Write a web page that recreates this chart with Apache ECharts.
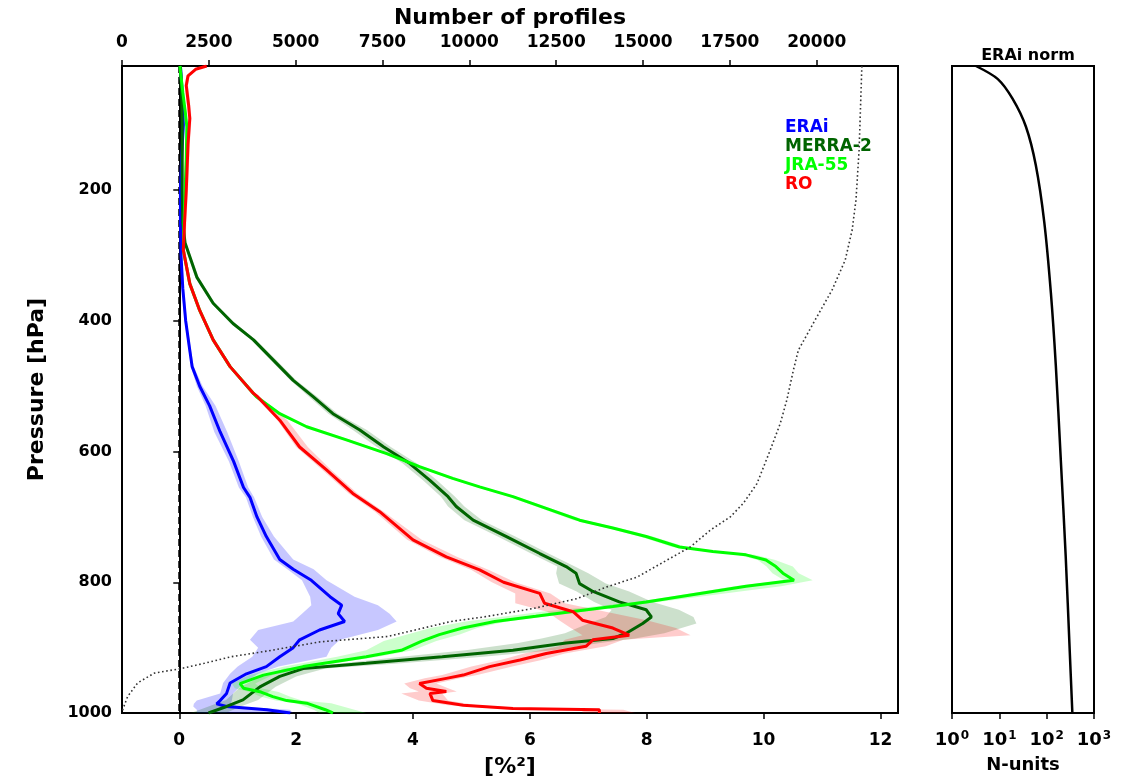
<!DOCTYPE html>
<html>
<head>
<meta charset="utf-8">
<script src="https://cdn.jsdelivr.net/npm/echarts@6/dist/echarts.min.js"></script>
<style>
html,body{margin:0;padding:0;background:#fff;}
#chart{width:1127px;height:780px;}
</style>
</head>
<body>
<div id="chart"></div>
<script>
// ---------------- DATA ----------------
const pressureTicks = [200, 400, 600, 800, 1000];
const varTicks = [0, 2, 4, 6, 8, 10, 12];
const profileTicks = [0, 2500, 5000, 7500, 10000, 12500, 15000, 17500, 20000];
const seriesNames = ['ERAi', 'MERRA-2', 'JRA-55', 'RO'];

// ERAi
const eraiP  = [10,50,100,150,200,250,300,350,400,445,470,500,530,570,615,655,670,700,730,765,780,797,822,835,848,860,873,888,900,914,929,940,954,970,981,986,990,995,1000];
const eraiV  = [0.02,0.05,0.07,0.04,0.02,0.02,0.03,0.06,0.11,0.18,0.22,0.35,0.52,0.70,0.93,1.10,1.21,1.33,1.49,1.72,1.95,2.26,2.58,2.78,2.72,2.83,2.40,2.06,1.95,1.72,1.49,1.15,0.87,0.81,0.70,0.64,0.81,1.50,1.90];
const eraiLo = [0.0,0.03,0.05,0.02,0.0,0.0,0.01,0.04,0.09,0.16,0.20,0.30,0.45,0.60,0.85,1.02,1.14,1.26,1.40,1.62,1.85,2.10,2.24,2.26,2.10,1.95,1.35,1.21,1.35,1.25,1.00,0.87,0.75,0.70,0.30,0.25,0.24,0.30,0.30];
const eraiHi = [0.04,0.07,0.09,0.06,0.04,0.04,0.05,0.08,0.13,0.20,0.25,0.40,0.62,0.82,1.02,1.18,1.28,1.42,1.62,1.95,2.30,2.52,3.00,3.40,3.60,3.72,3.40,2.75,2.60,2.52,1.70,1.35,1.10,0.92,0.90,0.88,1.00,1.89,1.95];

// MERRA-2
const merraP  = [10,50,100,150,200,250,281,333,373,404,429,460,491,516,542,567,593,618,644,669,684,705,730,756,776,786,802,814,830,842,853,863,878,886,893,904,914,924,932,944,960,980,990,1000];
const merraV  = [0.02,0.04,0.05,0.05,0.05,0.06,0.10,0.30,0.58,0.92,1.27,1.61,1.95,2.29,2.63,3.09,3.50,3.94,4.29,4.60,4.74,5.03,5.60,6.17,6.62,6.79,6.85,7.08,7.53,7.99,8.08,7.93,7.65,7.42,6.62,5.71,4.50,3.20,2.12,1.72,1.38,1.09,0.81,0.50];
const merraLo = [0.0,0.02,0.03,0.03,0.03,0.04,0.08,0.27,0.55,0.88,1.23,1.56,1.90,2.22,2.55,2.97,3.38,3.82,4.17,4.48,4.60,4.88,5.45,6.02,6.47,6.45,6.50,6.80,7.10,7.40,7.30,7.00,6.60,6.20,5.80,4.90,3.80,2.80,1.80,1.40,1.05,0.80,0.50,0.20];
const merraHi = [0.04,0.06,0.07,0.07,0.07,0.08,0.12,0.33,0.61,0.96,1.31,1.66,2.00,2.36,2.71,3.21,3.62,4.06,4.41,4.72,4.88,5.18,5.75,6.32,6.77,7.00,7.30,7.70,8.10,8.55,8.80,8.85,8.30,7.80,7.20,6.40,5.20,3.80,2.50,2.00,1.65,1.35,1.05,0.80];

// JRA-55
const jraP  = [10,50,78,103,150,200,250,292,343,384,429,470,511,516,542,562,582,603,623,641,654,669,687,705,717,730,746,753,758,766,776,786,797,806,822,830,837,845,852,860,870,880,890,904,914,929,942,955,962,968,975,981,985,995,1000];
const jraV  = [0.01,0.06,0.10,0.13,0.12,0.10,0.08,0.07,0.18,0.35,0.58,0.87,1.27,1.32,1.72,2.18,2.86,3.55,4.11,4.68,5.14,5.71,6.28,6.85,7.42,7.99,8.56,9.13,9.70,10.04,10.21,10.33,10.52,9.70,8.56,7.99,7.42,6.70,6.10,5.40,4.85,4.45,4.15,3.80,3.20,2.12,1.44,1.04,1.10,1.40,1.60,1.84,2.18,2.50,2.63];
const jraLo = [0.0,0.04,0.08,0.11,0.10,0.08,0.06,0.05,0.16,0.33,0.56,0.84,1.23,1.28,1.68,2.13,2.80,3.49,4.05,4.62,5.08,5.64,6.20,6.75,7.32,7.88,8.44,9.00,9.55,9.90,10.05,10.15,10.35,9.50,8.40,7.80,7.10,6.20,5.60,4.90,4.30,3.90,3.50,3.20,2.70,1.80,1.20,0.90,0.95,1.20,1.40,1.65,2.00,2.30,2.40];
const jraHi = [0.02,0.08,0.12,0.15,0.14,0.12,0.10,0.09,0.20,0.37,0.60,0.90,1.31,1.36,1.76,2.23,2.92,3.61,4.17,4.74,5.20,5.78,6.36,6.95,7.52,8.10,8.68,9.26,9.85,10.20,10.50,10.60,10.84,10.30,8.90,8.20,7.60,6.90,6.30,5.60,5.10,4.80,4.40,4.00,3.40,2.30,1.60,1.30,1.40,1.70,1.90,2.10,2.60,3.00,3.20];

// RO
const roP  = [10,15,25,40,70,90,130,200,250,292,343,384,429,470,511,516,552,593,628,664,692,735,761,781,800,817,832,845,858,870,881,888,898,909,919,929,942,947,955,962,967,970,981,988,993,995,1000];
const roV  = [0.47,0.28,0.15,0.12,0.16,0.18,0.15,0.12,0.09,0.07,0.18,0.35,0.58,0.87,1.27,1.34,1.72,2.06,2.52,2.97,3.43,4.00,4.57,5.14,5.55,6.17,6.25,6.74,6.90,7.42,7.70,7.08,6.96,6.28,5.83,5.31,4.86,4.57,4.11,4.23,4.57,4.29,4.34,4.86,5.71,7.19,7.19];
const roLo = [0.44,0.25,0.12,0.09,0.13,0.15,0.12,0.09,0.06,0.04,0.15,0.32,0.55,0.84,1.23,1.30,1.68,2.00,2.45,2.90,3.35,3.90,4.45,5.00,5.35,5.75,5.75,6.30,6.50,6.70,6.90,6.60,6.50,5.90,5.50,5.00,4.50,4.20,3.85,3.95,4.10,3.80,4.10,4.60,5.40,6.90,6.90];
const roHi = [0.50,0.31,0.18,0.15,0.19,0.21,0.18,0.15,0.12,0.10,0.21,0.38,0.61,0.90,1.31,1.38,1.85,2.20,2.60,3.05,3.50,4.15,4.75,5.30,5.75,6.35,6.60,7.30,8.00,8.50,8.75,7.60,7.30,6.60,6.20,5.70,5.10,4.80,4.40,4.60,4.75,4.50,4.60,5.10,6.00,7.60,7.80];

// Number of profiles (top axis)
const profP = [10,139,215,261,307,353,399,445,475,521,557,598,649,679,700,720,746,766,792,807,825,840,853,860,865,883,891,906,914,924,932,939,954,975,995,1000];
const profN = [21300,21220,21130,21020,20820,20440,19950,19470,19330,19140,18950,18660,18280,17890,17510,16940,16360,15690,14830,13960,13100,11850,10420,9460,9075,7640,5720,4090,3130,2370,1700,930,450,160,20,0];

// ERAi norm (right panel)
const normP = [10,30,60,103,162,249,358,468,613,759,905,1000];
const normV = [3.2,9.3,19,36.5,59,89,123,156,199,252,307,349];

// ---------------- CHART ----------------
const FONT = 'DejaVu Sans';
const colors = ['#0000ff', '#006400', '#00ff00', '#ff0000'];
const bandColors = ['rgba(0,0,255,0.22)', 'rgba(0,100,0,0.2)', 'rgba(0,255,0,0.2)', 'rgba(255,0,0,0.2)'];
const profiles = [
  [eraiP, eraiV, eraiLo, eraiHi],
  [merraP, merraV, merraLo, merraHi],
  [jraP, jraV, jraLo, jraHi],
  [roP, roV, roLo, roHi]
];

function pairs(xs, ps) { return ps.map((p, i) => [xs[i], p]); }

const series = [];
profiles.forEach((d, k) => {
  const [P, V, Lo, Hi] = d;
  series.push({
    type: 'custom', xAxisIndex: 0, yAxisIndex: 0, silent: true, clip: true, z: 1,
    data: [[V[0], P[0]]],
    renderItem: function (params, api) {
      const pts = [];
      for (let i = 0; i < P.length; i++) pts.push(api.coord([Lo[i], P[i]]));
      for (let i = P.length - 1; i >= 0; i--) pts.push(api.coord([Hi[i], P[i]]));
      return { type: 'polygon', shape: { points: pts }, style: { fill: bandColors[k] } };
    }
  });
});
profiles.forEach((d, k) => {
  const [P, V] = d;
  series.push({
    name: seriesNames[k], type: 'line', xAxisIndex: 0, yAxisIndex: 0,
    data: pairs(V, P), showSymbol: false, symbol: 'none', z: 3 + k,
    lineStyle: { color: colors[k], width: 3 }, itemStyle: { color: colors[k] }
  });
});
series.push({
  type: 'line', xAxisIndex: 0, yAxisIndex: 0, data: [[0, 10], [0, 1000]],
  showSymbol: false, symbol: 'none', z: 2, silent: true,
  lineStyle: { color: '#000', width: 2, type: [7, 4] }
});
series.push({
  type: 'line', xAxisIndex: 1, yAxisIndex: 0, data: pairs(profN, profP),
  showSymbol: false, symbol: 'none', z: 8, silent: true,
  lineStyle: { color: '#333', width: 1.6, type: [1.6, 2.6] }
});
series.push({
  type: 'line', xAxisIndex: 2, yAxisIndex: 1, data: pairs(normV, normP),
  showSymbol: false, symbol: 'none', smooth: 0.3, silent: true,
  lineStyle: { color: '#000', width: 2.5 }
});

const axisLineStyle = { lineStyle: { color: '#000', width: 2 } };
const tickStyle = { show: true, inside: false, length: 6, lineStyle: { color: '#000', width: 1.5 } };
const labelStyle = { color: '#000', fontFamily: FONT, fontWeight: 'bold', fontSize: 17 };
const yLabelStyle = { color: '#000', fontFamily: FONT, fontWeight: 'bold', fontSize: 16 };
const nameStyle = { color: '#000', fontFamily: FONT, fontWeight: 'bold', fontSize: 22 };

const option = {
  animation: false,
  backgroundColor: '#fff',
  title: {
    text: 'ERAi norm', left: 1023, top: 43, textAlign: 'center',
    textStyle: { color: '#000', fontFamily: FONT, fontWeight: 'bold', fontSize: 16 }
  },
  legend: {
    left: 774, top: 114, orient: 'vertical', itemGap: 2, itemWidth: 1, itemHeight: 14,
    icon: 'none', selectedMode: false,
    textStyle: { fontFamily: FONT, fontWeight: 'bold', fontSize: 17 },
    data: seriesNames.map((n, k) => ({ name: n, icon: 'none', textStyle: { color: colors[k] } }))
  },
  grid: [
    { left: 122, top: 66, width: 776, height: 647, show: true, borderColor: '#000', borderWidth: 2, backgroundColor: 'transparent', outerBoundsMode: 'none', containLabel: false },
    { left: 952, top: 66, width: 142, height: 647, show: true, borderColor: '#000', borderWidth: 2, backgroundColor: 'transparent', outerBoundsMode: 'none', containLabel: false }
  ],
  xAxis: [
    {
      gridIndex: 0, type: 'value', position: 'bottom', min: -0.98, max: 12.3,
      name: '[%²]', nameLocation: 'middle', nameGap: 43, nameTextStyle: nameStyle,
      axisLine: axisLineStyle, splitLine: { show: false },
      axisTick: Object.assign({ customValues: varTicks }, tickStyle),
      axisLabel: Object.assign({ customValues: varTicks, margin: 19, formatter: v => String(v) }, labelStyle)
    },
    {
      gridIndex: 0, type: 'value', position: 'top', min: 0, max: 22340,
      name: 'Number of profiles', nameLocation: 'middle', nameGap: 37, nameTextStyle: nameStyle,
      axisLine: axisLineStyle, splitLine: { show: false },
      axisTick: Object.assign({ customValues: profileTicks }, tickStyle),
      axisLabel: Object.assign({ customValues: profileTicks, margin: 15, formatter: v => String(v) }, labelStyle)
    },
    {
      gridIndex: 1, type: 'log', logBase: 10, min: 1, max: 1000, position: 'bottom',
      name: 'N-units', nameLocation: 'middle', nameGap: 43, nameTextStyle: Object.assign({}, nameStyle, { fontSize: 18 }),
      axisLine: axisLineStyle, splitLine: { show: false }, minorTick: { show: false },
      axisTick: tickStyle,
      axisLabel: Object.assign({
        margin: 17,
        formatter: v => '{b|10}{s|' + Math.round(Math.log10(v)) + '}',
        rich: {
          b: { fontFamily: FONT, fontWeight: 'bold', fontSize: 18, color: '#000' },
          s: { fontFamily: FONT, fontWeight: 'bold', fontSize: 12, color: '#000', verticalAlign: 'top', padding: [0, 0, 9, 1] }
        }
      }, labelStyle)
    }
  ],
  yAxis: [
    {
      gridIndex: 0, type: 'value', inverse: true, min: 10, max: 1000,
      name: 'Pressure [hPa]', nameLocation: 'middle', nameGap: 74, nameRotate: 90, nameTextStyle: nameStyle,
      axisLine: axisLineStyle, splitLine: { show: false },
      axisTick: Object.assign({ customValues: pressureTicks }, tickStyle),
      axisLabel: Object.assign({ customValues: pressureTicks, margin: 10, formatter: v => String(v) }, yLabelStyle)
    },
    {
      gridIndex: 1, type: 'value', inverse: true, min: 10, max: 1000,
      axisLine: axisLineStyle, splitLine: { show: false },
      axisTick: { show: false }, axisLabel: { show: false }
    }
  ],
  series: series
};

const chart = echarts.init(document.getElementById('chart'), null, { renderer: 'canvas' });
chart.setOption(option);
</script>
</body>
</html>
